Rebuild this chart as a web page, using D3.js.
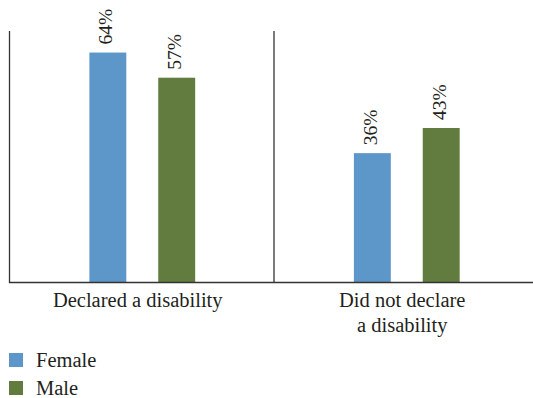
<!DOCTYPE html>
<html><head><meta charset="utf-8">
<script src="https://cdn.jsdelivr.net/npm/d3@7"></script>
<style>body{margin:0;background:#fff}svg{display:block}</style>
</head><body>
<script>
const categories = [["Declared a disability"], ["Did not declare", "a disability"]];
const series = ["Female", "Male"];
const female = [0.64, 0.36];
const male = [0.57, 0.43];
const colors = ["#5D97CA", "#627B3F"];
const values = [female, male];

const W = 533, H = 398;
const svg = d3.select("body").append("svg").attr("width", W).attr("height", H);
const font = "'Liberation Serif', 'DejaVu Serif', serif";
const ink = "#231F20";

const x = d3.scaleBand().domain(d3.range(categories.length)).range([9.5, 538.5]).paddingInner(0).paddingOuter(0);
const bw = x.bandwidth();
const xs = d3.scaleBand().domain(series).range([bw * 0.302, bw * 0.702]).paddingInner(0.4638).paddingOuter(0);
const y = d3.scaleLinear().domain([0, 0.7]).range([282.5, 31]);

// bars
series.forEach((s, si) => {
  svg.append("g").selectAll("rect").data(values[si]).join("rect")
    .attr("x", (d, i) => x(i) + xs(s))
    .attr("y", d => y(d))
    .attr("width", xs.bandwidth())
    .attr("height", d => y(0) - y(d))
    .attr("fill", colors[si]);
  svg.append("g").selectAll("text").data(values[si]).join("text")
    .attr("transform", (d, i) => `translate(${x(i) + xs(s) + xs.bandwidth() / 2 - 2.5},${y(d) - 8}) rotate(-90)`)
    .attr("dy", "0.35em")
    .attr("font-family", font).attr("font-size", 19.5).attr("fill", ink)
    .text(d => d3.format(".0%")(d));
});

// axes lines
const ax = svg.append("g").attr("stroke", "#333").attr("stroke-width", 1.3);
d3.range(categories.length).forEach(i => {
  ax.append("line").attr("x1", x(i)).attr("x2", x(i)).attr("y1", y(0.7)).attr("y2", y(0));
});
ax.append("line").attr("x1", x(0) - 0.6).attr("x2", W).attr("y1", y(0)).attr("y2", y(0));

// category labels
const cl = svg.append("g").attr("font-family", font).attr("font-size", 20.5).attr("fill", ink).attr("text-anchor", "middle");
categories.forEach((lines, i) => {
  const cx = x(i) + bw / 2 - 4;
  const t = cl.append("text").attr("x", cx).attr("y", 307);
  lines.forEach((l, j) => t.append("tspan").attr("x", cx).attr("dy", j ? 25 : 0).text(l));
});

// legend
const lg = svg.append("g");
series.forEach((s, i) => {
  const g = lg.append("g").attr("transform", `translate(9,${353 + i * 28})`);
  g.append("rect").attr("width", 14).attr("height", 14).attr("fill", colors[i]);
  g.append("text").attr("x", 27).attr("y", 14).attr("font-family", font).attr("font-size", 20.5).attr("fill", ink).text(s);
});
</script>
</body></html>
